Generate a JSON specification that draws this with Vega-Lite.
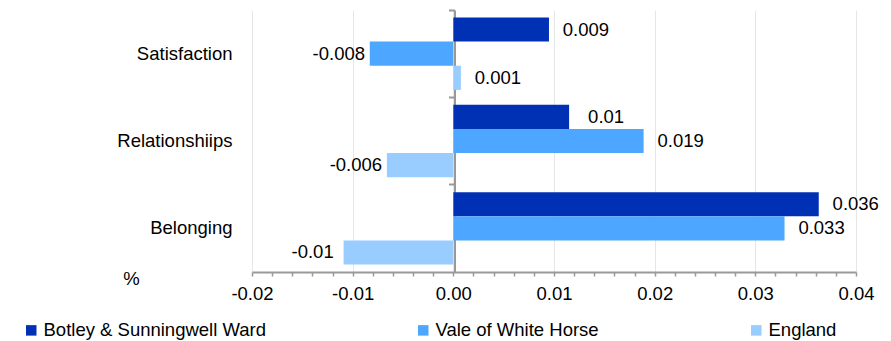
{
  "$schema": "https://vega.github.io/schema/vega-lite/v6.json",
  "width": 604,
  "height": 262,
  "autosize": {"type": "none"},
  "padding": {"left": 252, "top": 10, "right": 35, "bottom": 69},
  "config": {
    "font": "Liberation Sans",
    "view": {"stroke": null},
    "axis": {"labelColor": "#000000", "titleColor": "#000000", "labelFontSize": 18.5, "titleFontSize": 18.5, "titleFontWeight": "normal"},
    "legend": {"labelColor": "#000000"}
  },
  "data": {
    "values": [
      {"category": "Satisfaction", "series": "Botley & Sunningwell Ward", "value": 0.0095, "label": "0.009"},
      {"category": "Satisfaction", "series": "Vale of White Horse", "value": -0.0083, "label": "-0.008"},
      {"category": "Satisfaction", "series": "England", "value": 0.00075, "label": "0.001"},
      {"category": "Relationshiips", "series": "Botley & Sunningwell Ward", "value": 0.0115, "label": "0.01"},
      {"category": "Relationshiips", "series": "Vale of White Horse", "value": 0.0189, "label": "0.019"},
      {"category": "Relationshiips", "series": "England", "value": -0.0066, "label": "-0.006"},
      {"category": "Belonging", "series": "Botley & Sunningwell Ward", "value": 0.0363, "label": "0.036"},
      {"category": "Belonging", "series": "Vale of White Horse", "value": 0.0329, "label": "0.033"},
      {"category": "Belonging", "series": "England", "value": -0.0109, "label": "-0.01"}
    ]
  },
  "encoding": {
    "x": {
      "field": "value",
      "type": "quantitative",
      "scale": {"domain": [-0.02, 0.04], "nice": false},
      "axis": {
        "title": null,
        "values": [-0.02, -0.018, -0.016, -0.014, -0.012, -0.01, -0.008, -0.006, -0.004, -0.002, 0, 0.002, 0.004, 0.006, 0.008, 0.01, 0.012, 0.014, 0.016, 0.018, 0.02, 0.022, 0.024, 0.026, 0.028, 0.03, 0.032, 0.034, 0.036, 0.038, 0.04],
        "labelExpr": "abs(round(datum.value*1000)) % 10 == 0 ? (datum.value < -0.0001 ? '-' : '') + format(abs(datum.value), '.2f') : ''",
        "grid": true,
        "gridColor": "#e6e6e6",
        "gridWidth": 1,
        "gridOpacity": {"condition": {"test": "abs(round(datum.value*1000)) % 10 == 0", "value": 1}, "value": 0},
        "domainColor": "#999999",
        "domainWidth": 2,
        "tickColor": "#999999",
        "tickSize": 4,
        "tickWidth": 1.5,
        "labelPadding": 8,
        "labelFlush": false,
        "labelOverlap": false
      }
    }
  },
  "layer": [
    {
      "mark": {"type": "bar"},
      "encoding": {
        "y": {
          "field": "category",
          "type": "nominal",
          "sort": ["Satisfaction", "Relationshiips", "Belonging"],
          "scale": {"paddingInner": 0, "paddingOuter": 0},
          "axis": {
            "orient": "left",
            "domain": false,
            "ticks": false,
            "tickSize": 0,
            "grid": false,
            "labelPadding": 20,
            "title": "%",
            "titleAngle": 0,
            "titleX": -121,
            "titleY": 268.5,
            "titleAlign": "center",
            "titleBaseline": "middle"
          }
        },
        "yOffset": {
          "field": "series",
          "sort": ["Botley & Sunningwell Ward", "Vale of White Horse", "England"],
          "scale": {"paddingInner": 0, "paddingOuter": 0.31}
        },
        "color": {
          "field": "series",
          "type": "nominal",
          "sort": ["Botley & Sunningwell Ward", "Vale of White Horse", "England"],
          "scale": {"domain": ["Botley & Sunningwell Ward", "Vale of White Horse", "England"], "range": ["#0030b4", "#4da6ff", "#99ccff"]},
          "legend": {
            "orient": "none",
            "legendX": -230,
            "legendY": 311,
            "direction": "horizontal",
            "title": null,
            "symbolType": "square",
            "symbolSize": 110,
            "symbolStrokeWidth": 0,
            "labelFontSize": 18.5,
            "labelLimit": 0,
            "labelOffset": 3,
            "columnPadding": 148,
            "padding": 0
          }
        }
      }
    },
    {
      "transform": [{"filter": "datum.value > 0"}],
      "mark": {"type": "text", "align": "center", "baseline": "middle", "dx": 37, "fontSize": 18.5, "color": "#000000"},
      "encoding": {
        "text": {"field": "label"},
        "y": {
          "field": "category",
          "type": "nominal",
          "sort": ["Satisfaction", "Relationshiips", "Belonging"],
          "scale": {"paddingInner": 0, "paddingOuter": 0},
          "axis": {
            "orient": "left",
            "offset": -202.5,
            "labels": false,
            "title": null,
            "grid": false,
            "domain": true,
            "domainColor": "#999999",
            "domainWidth": 2,
            "ticks": true,
            "tickSize": 6,
            "tickColor": "#999999",
            "tickWidth": 2,
            "bandPosition": 0
          }
        },
        "yOffset": {
          "field": "series",
          "sort": ["Botley & Sunningwell Ward", "Vale of White Horse", "England"],
          "scale": {"paddingInner": 0, "paddingOuter": 0.31}
        }
      }
    },
    {
      "transform": [{"filter": "datum.value < 0"}],
      "mark": {"type": "text", "align": "center", "baseline": "middle", "dx": -31, "fontSize": 18.5, "color": "#000000"},
      "encoding": {
        "text": {"field": "label"},
        "y": {
          "field": "category",
          "type": "nominal",
          "sort": ["Satisfaction", "Relationshiips", "Belonging"],
          "scale": {"paddingInner": 0, "paddingOuter": 0},
          "axis": null
        },
        "yOffset": {
          "field": "series",
          "sort": ["Botley & Sunningwell Ward", "Vale of White Horse", "England"],
          "scale": {"paddingInner": 0, "paddingOuter": 0.31}
        }
      }
    }
  ],
  "resolve": {"axis": {"y": "independent"}}
}
